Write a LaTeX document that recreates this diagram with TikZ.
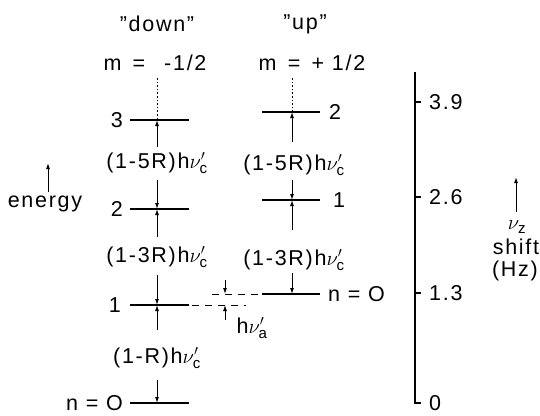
\documentclass[tikz,border=0pt]{standalone}
\usepackage{amsmath}
\usepackage{fontspec}
\setmainfont[LetterSpace=8]{Liberation Sans}
\usetikzlibrary{arrows.meta}
\newcommand{\hnu}[1]{h$\nu'_{\text{#1}}$}
\begin{document}
\begin{tikzpicture}[x=1pt,y=-1pt,
  lbl/.style={inner sep=0pt,font=\fontsize{21.5}{25}\selectfont},
  lvl/.style={line width=1.1pt},
  arr/.style={line width=1pt,-{Latex[length=6pt,width=4pt]}},
  dots/.style={line width=0.9pt,dash pattern=on 1.6pt off 2pt},
  dsh/.style={line width=0.9pt,dash pattern=on 7pt off 6pt}]
\useasboundingbox (0,0) rectangle (540,415);
% titles
\node[lbl] (tdown) at (157,24) {"down"};
\node[lbl] (tup) at (305,24) {"up"};
\node[lbl] (mdown) at (155,63) {m\, = \, -1/2};
\node[lbl] (mup) at (312,63) {m\, = \,+ 1/2};
% level coordinates
\coordinate (d3) at (157,120); \coordinate (d2) at (157,209);
\coordinate (d1) at (157,305); \coordinate (d0) at (157,403);
\coordinate (u2) at (292,112); \coordinate (u1) at (292,200);
\coordinate (u0) at (292,294);
% level lines
\foreach \c in {d3,d2,d1,d0} \draw[lvl] ([xshift=-27pt]\c) -- ([xshift=32pt]\c);
\foreach \c in {u2,u1,u0} \draw[lvl] ([xshift=-30pt]\c) -- ([xshift=28pt]\c);
% level labels
\node[lbl,anchor=east] (l3) at (123,120) {3};
\node[lbl,anchor=east] (l2) at (123,209) {2};
\node[lbl,anchor=east] (l1) at (121,305) {1};
\node[lbl,anchor=east] (l0) at (123,403) {n = O};
\node[lbl,anchor=west] (r2) at (329,112) {2};
\node[lbl,anchor=west] (r1) at (333,200) {1};
\node[lbl,anchor=west] (r0) at (328,294) {n = O};
% dotted continuations
\coordinate (dtop) at (157,78); \coordinate (utop) at (292,78);
\draw[dots] (dtop) -- (d3);
\draw[dots] (utop) -- (u2);
% transition labels
\node[lbl] (a5) at (157,163) {(1-5R)\hnu{c}};
\node[lbl] (a3) at (157,257) {(1-3R)\hnu{c}};
\node[lbl] (a1) at (157,358) {(1-R)\hnu{c}};
\node[lbl] (b5) at (294,165) {(1-5R)\hnu{c}};
\node[lbl] (b3) at (294,260) {(1-3R)\hnu{c}};
% arrow tails
\coordinate (t1) at (157,147); \coordinate (t2) at (157,180);
\coordinate (t3) at (157,237); \coordinate (t4) at (157,275);
\coordinate (t5) at (157,330); \coordinate (t6) at (157,380);
\coordinate (s1) at (292,142); \coordinate (s2) at (292,180);
\coordinate (s3) at (292,230); \coordinate (s4) at (292,273);
\draw[arr] (t1) -- (d3);
\draw[arr] (t2) -- (d2);
\draw[arr] (t3) -- (d2);
\draw[arr] (t4) -- (d1);
\draw[arr] (t5) -- (d1);
\draw[arr] (t6) -- (d0);
\draw[arr] (s1) -- (u2);
\draw[arr] (s2) -- (u1);
\draw[arr] (s3) -- (u1);
\draw[arr] (s4) -- (u0);
% dashed alignment lines
\coordinate (da) at (192,305); \coordinate (db) at (246,305);
\coordinate (ua) at (212,294); \coordinate (ub) at (262,294);
\draw[dsh] (da) -- (db);
\draw[dsh] (ua) -- (ub);
\coordinate (hA) at (225,294); \coordinate (hB) at (225,305);
\coordinate (hAt) at (225,280); \coordinate (hBt) at (225,320);
\draw[arr] (hAt) -- (hA);
\draw[arr] (hBt) -- (hB);
\node[lbl] (ha) at (252,328) {\hnu{a}};
% energy
\coordinate (e1) at (48,192); \coordinate (e2) at (48,163);
\draw[arr] (e1) -- (e2);
\node[lbl] (en) at (45,204) {energy};
% right axis
\coordinate (ax0) at (415,403); \coordinate (axt) at (415,72);
\coordinate (ax0r) at (421,403);
\draw[lvl] (axt) -- (ax0) -- (ax0r);
\foreach \y/\t/\n in {102/3.9/k3,197/2.6/k2,293/1.3/k1}{
  \coordinate (\n) at (415,\y);
  \draw[lvl] (\n) -- ++(6,0);
  \node[lbl,anchor=west] at (429,\y) {\t};
}
\node[lbl,anchor=west] (k0) at (429,403) {0};
% nu_z shift
\coordinate (z1) at (516,212); \coordinate (z2) at (516,177);
\draw[arr] (z1) -- (z2);
\node[lbl] (nz) at (517,227) {$\nu_{\text{z}}$};
\node[lbl] (sh) at (516,247) {shift};
\node[lbl] (hz) at (515,271) {(Hz)};
\end{tikzpicture}
\end{document}
